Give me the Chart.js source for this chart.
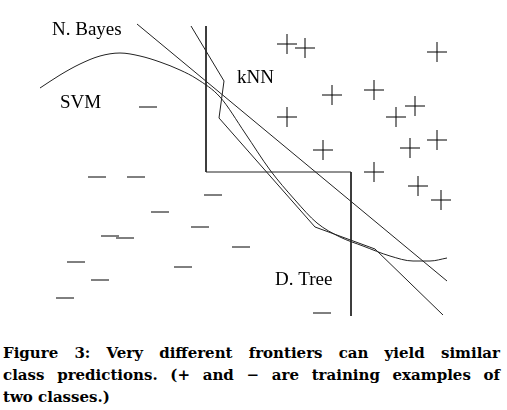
<!DOCTYPE html><html><head><meta charset="utf-8">
<script src="https://cdn.jsdelivr.net/npm/chart.js@4"></script>
<style>html,body{margin:0;padding:0;background:#fff;width:507px;height:410px;overflow:hidden}
#w{position:absolute;left:0;top:0;width:507px;height:330px}
#cap{position:absolute;left:3px;top:342px;width:497px;font:bold 15px "DejaVu Serif",serif;line-height:22px;color:#000}
#cap div.j{text-align:justify;text-align-last:justify;white-space:nowrap}
</style></head><body>
<div id="w"><canvas id="c"></canvas></div>
<div id="cap"><div class="j">Figure 3: Very different frontiers can yield similar</div><div class="j">class predictions. (+ and &minus; are training examples of</div><div>two classes.)</div></div>
<script>
const plusPts=[[287,44],[305,48],[437,52],[332,95],[374,90],[415,106],[396,117],[287,117],[323,150],[410,148],[437,140],[374,172],[418,186],[441,200]];
const minusPts=[[148,107],[97,177],[136,177],[213,195],[160,212],[200,227],[110,236],[125,238],[241,247],[76,262],[183,267],[100,280],[65,298],[322,313]];
const bayesLine=[[137,24],[447,281]];
const knnLine=[[191,26],[224,81],[219,118],[315,227],[375,249],[443,315]];
const treeLine=[[206,26],[206,172],[351,172],[351,316]];
const svmCurve=[[40,88],[60,75],[80,64],[100,56],[120,53],[140,56],[160,62],[180,70],[197,79],[220,97],[245,133],[270,170],[295,200],[317,223],[340,237],[363,246],[390,256],[413,261],[430,261],[447,258]];
const labels=[["N. Bayes",52,30],["SVM",60,103],["kNN",237,78],["D. Tree",275,280]];
const xy=a=>a.map(p=>({x:p[0],y:p[1]}));
const lineDs=d=>({type:'line',data:xy(d),borderColor:'#222',borderWidth:1,pointRadius:0,fill:false,tension:0});
const textPlugin={id:'t',afterDatasetsDraw(ch){const c=ch.ctx,xs=ch.scales.x,ys=ch.scales.y;c.save();c.fillStyle='#000';c.font='19px "Liberation Serif",serif';c.textBaseline='middle';labels.forEach(l=>c.fillText(l[0],xs.getPixelForValue(l[1]),ys.getPixelForValue(l[2])));c.restore();}};
new Chart(document.getElementById('c'),{type:'scatter',data:{datasets:[
{data:xy(plusPts),pointStyle:'cross',pointRadius:10,borderColor:'#000',borderWidth:1,showLine:false},
{data:xy(minusPts),pointStyle:'line',pointRadius:9,borderColor:'#000',borderWidth:1,showLine:false},
lineDs(bayesLine),lineDs(knnLine),lineDs(treeLine),
{type:'line',data:xy(svmCurve),borderColor:'#222',borderWidth:1,pointRadius:0,fill:false,cubicInterpolationMode:'monotone'}
]},options:{responsive:true,maintainAspectRatio:false,animation:false,layout:{padding:0,autoPadding:false},
plugins:{legend:{display:false},tooltip:{enabled:false}},
scales:{x:{type:'linear',min:0,max:507,display:false},y:{type:'linear',min:0,max:330,reverse:true,display:false}}},plugins:[textPlugin]});
</script></body></html>
